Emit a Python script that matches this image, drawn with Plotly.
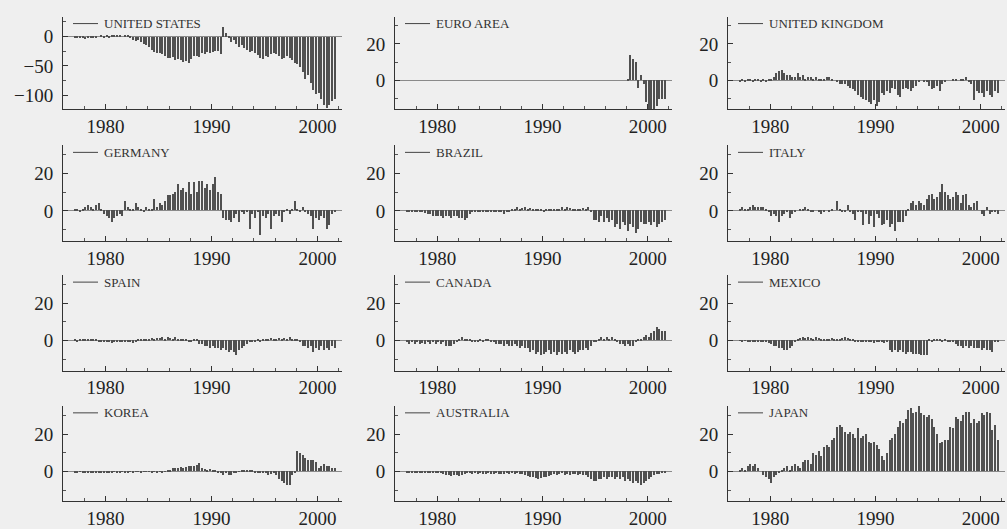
import plotly.graph_objects as go

# ---------------- data (quarterly, 1977Q1 - 2001Q3) ----------------
start_year = 1977
n_quarters = 99

countries = ["UNITED STATES", "EURO AREA", "UNITED KINGDOM",
             "GERMANY", "BRAZIL", "ITALY",
             "SPAIN", "CANADA", "MEXICO",
             "KOREA", "AUSTRALIA", "JAPAN"]

x_tick_labels = [1980, 1990, 2000]

united_states = [
    -1, -3, -2, -3,   -4, -2, -1, -3,   -1, 0, 1, -1,   1, -1, 2, 1,   2, 1, 0, 1,
    1, -2, -5, -8,   -5, -9, -12, -15,   -18, -22, -26, -28,   -27, -30, -33, -37,
    -36, -35, -39, -38,   -40, -43, -42, -44,   -38, -33, -32, -35,   -28, -30, -26, -27,
    -26, -24, -25, -30,   16, 6, -3, -9,   -6, -12, -18, -14,   -20, -22, -26, -25,
    -28, -31, -37, -38,   -32, -34, -30, -27,   -30, -33, -38, -36,   -33, -36, -40, -44,
    -47, -52, -60, -72,   -65, -78, -90, -97,   -95, -105, -115, -120,   -115, -108, -105]

euro_area = [None] * 84 + [
    1, 14, 12, 10,   -4, 3, -2, -12,   -16, -16, -16, -14,   -10, -10, -10]

united_kingdom = [
    -0.5, 0.5, -0.5, 0.5,   0.5, -0.5, 0.5, 1,   -0.5, 0.5, -1, 0.5,   1, 2, 4, 5,
    6, 4, 3, 3,   2, 2, 4, 2,   3, 1, 2, 2,   1, 2, 1, 1,   1, 2, 2, 1,
    0, -1, -2, -2,   -2, -3, -4, -5,   -6, -8, -9, -10,   -11, -12, -13, -11,
    -14, -12, -7, -8,   -6, -7, -4, -5,   -8, -9, -5, -4,   -5, -6, -4, -3,
    -1, 0, -1, -1,   -3, -5, -4, -3,   -6, -2, -1, 0,   0, 1, 1, 0,
    1, 1, 2, -1,   -2, -11, -6, -7,   -7, -9, -6, -8,   -9, -6, -7]

germany = [
    1, 0.5, -0.5, 1,   2, 3, 2, 1,   3, 4, 1, -2,   -3, -4, -6, -4,   -3, -2, -3, 5,
    2, 1, 1, 4,   2, 1, -1, 2,   1, 1, 6, 2,   4, 3, 5, 8,   8, 9, 10, 14,
    11, 12, 10, 15,   9, 15, 10, 16,   16, 12, 14, 11,   14, 18, 10, 9,
    -4, -5, -5, -6,   -4, -2, -6, -1,   -2, -1, -10, -2,   -4, -1, -13, -3,
    -4, -2, -10, -3,   -2, -3, -6, -1,   1, -2, 1, 5,   1, -1, 2, -1,
    -2, -3, -10, -4,   -5, -3, -4, -10,   -8, -2, -1]

brazil = [
    -0.5, -1, -0.5, -1,   -0.5, -1, -1, -1.5,   -2, -2, -3, -3,   -3, -3, -4, -3,
    -3, -4, -3, -3,   -4, -4, -5, -4,   -2, -1, -0.5, -1,   -0.5, -1, -0.5, -1,
    -0.5, -1, -0.5, -1,   -0.5, -2, -1, -0.5,   1, 0.5, 2, 1,   1.5, 2, 1, 1.5,
    1, 1, 0.5, 1,   -1, 1, 0.5, 1,   1, 0.5, 1, 2,   1, 2, 1.5, 1,
    1, 0.5, 1, 1.5,   1, 2, -1, -5,   -5, -6, -3, -6,   -4, -6, -5, -9,
    -7, -10, -6, -8,   -11, -7, -9, -12,   -10, -6, -7, -7,   -6, -8, -6, -9,
    -7, -6, -5]

italy = [
    1, 2, 1, 1,   2, 3, 2, 2,   2, 2, 1, -1,   -3, -2, -3, -6,   -3, -2, -1, -4,
    -2, -1, 0, 1,   1, 2, 1, -1,   -1, 0, -1, -2,   -1, 0, -1, 1,   0, 5, 1, -1,
    -1, 3, -1, -2,   -5, -1, -1, -8,   -2, -7, -3, -9,   -2, -4, -8, -7,
    -5, -9, -7, -11,   -6, -6, -6, -3,   1, 4, 5, 3,   5, 4, 3, 6,
    8, 9, 6, 7,   10, 14, 10, 8,   6, 7, 10, 8,   4, 8, 9, 3,
    2, 4, 5, 0,   -2, -3, 2, -2,   -1, -1, -2]

spain = [
    0.5, -0.5, 0.5, 0.5,   0.5, 0.5, 1, 0.5,   0.5, -0.5, -1, -0.5,   -1, -0.5, -1.5, -1,
    -0.5, -1, -0.5, -1,   -1, -0.5, -1.5, -0.5,   0.5, 1, 0.5, 1,   1, 1.5, 1, 1.5,
    1.5, 2, 1, 2,   1.5, 1, 2, 1,   1, 0.5, 1, -0.5,   -1, 0.5, 1, -2,
    -2, -3, -3, -4,   -3, -4, -4, -5,   -4, -5, -6, -5,   -6, -8, -5, -4,
    -3, -2, -1, -0.5,   -0.5, 0.5, -0.5, 0.5,   0.5, 1, 1.5, 1,   1, 1.5, 1, 1.5,
    1, 2, 1, 1,   0.5, -0.5, -3, -3,   -4, -3, -6, -4,   -5, -3, -5, -4,
    -5, -3, -4]

canada = [
    -1, -2, -1, -2,   -1, -2, -1.5, -2,   -1, -2, -1, -2,   -1, -2, -1, -3,
    -3, -3, -2, -1,   1, 2, 1, 1,   0.5, -1, -0.5, -1,   0.5, -0.5, 1, 0.5,
    -1, -1, -2, -2,   -2, -3, -2, -3,   -3, -2, -3, -4,   -3, -4, -4, -6,
    -5, -7, -6, -8,   -7, -6, -5, -7,   -6, -8, -6, -7,   -6, -7, -5, -6,
    -7, -6, -5, -5,   -4, -5, -3, -1,   -1, 1, 2, 1,   2, 1, 2, 0.5,
    -1, -2, -2, -3,   -2, -3, -3, -1,   0.5, 1, 2, 3,   2, 4, 5, 7,
    6, 5, 5]

mexico = [
    -0.3, -0.5, -0.3, -0.5,   -0.5, -1, -0.5, -1,   -0.5, -1, -1, -1.5,   -2, -3, -3, -4,
    -4, -5, -5, -4,   -3, -1, 1, 1.5,   2, 1.5, 2, 1.5,   1, 2, 1.5, 1,
    1, 0.5, 1, 1.5,   1, 0.5, 1, 1.5,   2, 1.5, 1, 0.5,   -0.5, -1, -0.5, -1,
    -1, -0.5, -1, -1.5,   -1, -1, -0.5, -1.5,   -1, -5, -6, -5,   -6, -5, -6, -7,
    -6, -6, -7, -7,   -7, -8, -8, -8,   0.5, -0.5, 0.5, 1,   0.5, -0.5, 0.5, -0.5,
    -0.5, -1, -2, -3,   -3, -4, -3, -4,   -3, -4, -4, -4,   -5, -4, -5, -5,
    -6, -0.5, -0.5]

korea = [
    -0.5, -0.5, -0.3, -0.5,   -0.5, -0.5, -0.5, -0.5,   -0.5, -0.5, -0.5, -0.5,
    -0.5, -0.5, -0.5, -0.3,   -0.5, -0.5, -0.3, -0.5,   -0.5, -0.3, -0.5, -0.3,
    -0.3, -0.5, -0.3, -0.3,   -0.3, -0.5, -0.3, -0.5,   -0.3, -0.5, -0.3, 0.5,
    1, 2, 2, 2,   2.5, 2, 2.5, 3,   3, 3, 3.5, 4.5,   2, 1.5, 1, 1.5,
    0.5, 1, -0.5, -0.5,   -2, -1, -2, -2,   -1, -0.5, -0.3, 0.5,   0.5, 0.5, 1, 0.3,
    -0.5, -1, -0.5, -1,   -1, -2, -1.5, -1,   -2, -4, -5, -6,   -7, -7, -2, -1,
    11, 10, 9, 7,   6, 6, 6, 5,   2, 3, 4, 3,   3, 2, 2]

australia = [
    -0.5, -1, -0.5, -1,   -1, -0.5, -1, -1,   -0.5, -1, -1, -0.5,   -1, -1, -1.5, -2,
    -2, -2.5, -2, -2,   -2.5, -2, -1.5, -1,   -1, -1.5, -1, -1.5,   -1, -1.5, -1.5, -1,
    -1.5, -1.5, -1, -1.5,   -1.5, -1.5, -1, -1.5,   -1, -1.5, -1, -1.5,   -1.5, -2, -2.5, -3,
    -3, -3.5, -4, -3.5,   -3, -3, -2.5, -2,   -1.5, -2, -1.5, -1,   -2, -1.5, -2, -1.5,
    -1.5, -2, -1.5, -2,   -2, -3, -4, -5,   -5, -4, -4, -3,   -4, -3, -3, -4,
    -3, -4, -3, -5,   -4, -5, -6, -5,   -6, -7, -6, -5,   -4, -3, -2, -1.5,
    -1.5, -1, -0.5]

japan = [
    1, 2, 1, 3,   4, 3, 4, 2,   0, -2, -3, -4,   -6, -3, -2, -1,   1, 2, 3, 1,
    3, 4, 3, 2,   5, 6, 6, 4,   10, 9, 11, 8,   13, 14, 13, 17,   18, 24, 25, 24,
    21, 20, 21, 20,   18, 23, 18, 19,   20, 16, 15, 16,   14, 12, 8, 6,
    10, 17, 18, 20,   24, 27, 26, 28,   33, 34, 31, 32,   35, 31, 30, 29,
    30, 28, 24, 20,   15, 16, 17, 17,   24, 23, 29, 28,   27, 30, 32, 32,
    26, 28, 26, 27,   31, 30, 32, 31,   22, 25, 17]

series = [united_states, euro_area, united_kingdom,
          germany, brazil, italy,
          spain, canada, mexico,
          korea, australia, japan]

# ---------------- style / layout ----------------
quarters = [start_year + k / 4 + 0.125 for k in range(n_quarters)]

BG = "#efefef"
BAR = "#505050"
AXIS = "#333333"
FONT = "Liberation Serif, Times New Roman, serif"

W, H = 1007, 529
col_px = [(63, 342), (395, 672), (728, 1005)]
row_px = [(17, 111), (148, 245), (280, 377), (413, 510)]

fig = go.Figure()

for i, (name, vals) in enumerate(zip(countries, series)):
    r, c = divmod(i, 3)
    k = i + 1
    sx = "" if k == 1 else str(k)
    xa, ya = "x" + sx, "y" + sx
    x0p, x1p = col_px[c]
    y0p, y1p = row_px[r]

    fig.add_trace(go.Bar(
        x=quarters, y=vals, xaxis=xa, yaxis=ya,
        width=0.14, marker=dict(color=BAR, line=dict(width=0)),
        showlegend=False, hoverinfo="x+y"))

    if i == 0:
        yrange, ydt, yminor = [-123, 33], 50, 25
    else:
        yrange, ydt, yminor = [-16, 35], 20, 10

    fig.layout["xaxis" + sx] = dict(
        domain=[x0p / W, x1p / W], anchor=ya,
        range=[1976, 2002.3],
        tickmode="array", tickvals=x_tick_labels,
        ticktext=[str(v) for v in x_tick_labels],
        ticks="inside", ticklen=5, tickwidth=1, tickcolor=AXIS,
        minor=dict(tickmode="linear", tick0=1976, dtick=2, ticks="inside",
                   ticklen=3, tickcolor="#555", showgrid=False),
        showline=True, linecolor=AXIS, linewidth=1,
        showgrid=False, zeroline=False,
        tickfont=dict(family=FONT, size=19, color="#222"),
        fixedrange=True)

    fig.layout["yaxis" + sx] = dict(
        domain=[1 - y1p / H, 1 - y0p / H], anchor=xa,
        range=yrange, tick0=0, dtick=ydt,
        ticks="inside", ticklen=5, tickwidth=1, tickcolor=AXIS,
        minor=dict(dtick=yminor, ticks="inside", ticklen=3,
                   tickcolor="#555", showgrid=False),
        showline=True, linecolor=AXIS, linewidth=1,
        showgrid=False,
        zeroline=True, zerolinecolor="#8a8a8a", zerolinewidth=1,
        tickfont=dict(family=FONT, size=19, color="#222"),
        ticklabelstandoff=5,
        fixedrange=True)

    # legend-like key: short line + country name
    wpx = x1p - x0p
    hpx = y1p - y0p
    ky = 1 - 7 / hpx
    fig.add_shape(type="line", xref=xa + " domain", yref=ya + " domain",
                  x0=10 / wpx, x1=35 / wpx, y0=ky, y1=ky,
                  line=dict(color="#444", width=1))
    fig.add_annotation(text=name, xref=xa + " domain", yref=ya + " domain",
                       x=39 / wpx, y=ky, xanchor="left", yanchor="middle",
                       showarrow=False,
                       font=dict(family=FONT, size=13, color="#333"))

fig.update_layout(
    width=W, height=H,
    margin=dict(l=0, r=0, t=0, b=0),
    paper_bgcolor=BG, plot_bgcolor=BG,
    bargap=0, showlegend=False)

fig.write_html(
    "out.html",
    config={"displayModeBar": False},
    post_script="document.body.style.margin='0';"
                "document.body.style.overflow='hidden';"
                "document.body.style.background='" + BG + "';")
